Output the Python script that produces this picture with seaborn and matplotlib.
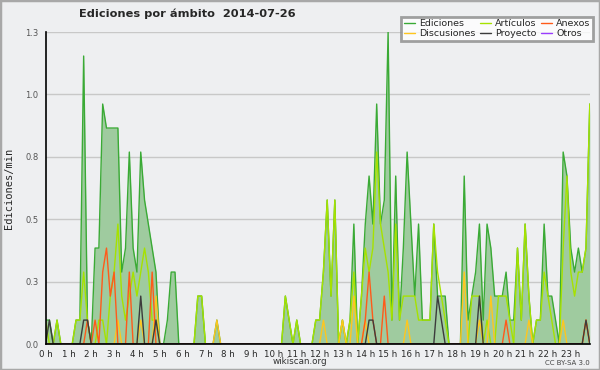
import numpy as np
import pandas as pd
import matplotlib
matplotlib.use("Agg")
import matplotlib.pyplot as plt
import seaborn as sns
from matplotlib.patches import Rectangle

# edits counted per 10-minute slot (00:00 ... 23:50)
ediciones = [1, 1, 0, 1, 0, 0, 0, 0, 1, 1,
             12, 1, 0, 4, 4, 10, 9, 9, 9, 9,
             3, 4, 8, 4, 3, 8, 6, 5, 4, 3,
             0, 0, 1, 3, 3, 0, 0, 0, 0, 0,
             2, 2, 0, 0, 0, 1, 0, 0, 0, 0,
             0, 0, 0, 0, 0, 0, 0, 0, 0, 0,
             0, 0, 0, 2, 1, 0, 1, 0, 0, 0,
             0, 1, 1, 3, 6, 2, 6, 0, 1, 0,
             1, 5, 0, 2, 5, 7, 5, 10, 5, 6,
             13, 1, 7, 1, 4, 8, 5, 2, 5, 1,
             1, 1, 5, 2, 2, 2, 0, 0, 0, 0,
             7, 1, 2, 3, 5, 1, 5, 4, 2, 2,
             2, 3, 1, 1, 4, 1, 5, 2, 0, 1,
             1, 5, 2, 2, 1, 0, 8, 7, 4, 3,
             4, 3, 4, 10]
articulos = [1, 0, 0, 1, 0, 0, 0, 0, 1, 1,
             3, 1, 0, 0, 1, 1, 0, 2, 3, 5,
             2, 1, 2, 3, 2, 3, 4, 3, 1, 1,
             0, 0, 0, 0, 0, 0, 0, 0, 0, 0,
             2, 2, 0, 0, 0, 0, 0, 0, 0, 0,
             0, 0, 0, 0, 0, 0, 0, 0, 0, 0,
             0, 0, 0, 2, 1, 0, 1, 0, 0, 0,
             0, 1, 1, 3, 6, 2, 6, 0, 1, 0,
             1, 3, 0, 2, 4, 3, 4, 8, 5, 4,
             3, 1, 5, 1, 2, 2, 2, 2, 1, 1,
             1, 1, 5, 3, 2, 1, 0, 0, 0, 0,
             0, 0, 2, 2, 2, 0, 1, 0, 0, 2,
             2, 2, 1, 0, 4, 1, 5, 2, 0, 1,
             1, 3, 2, 1, 0, 0, 4, 7, 3, 2,
             3, 3, 4, 10]
discusiones = [0, 0, 0, 0, 0, 0, 0, 0, 0, 0,
               0, 0, 0, 0, 0, 0, 0, 0, 0, 1,
               0, 0, 0, 0, 0, 1, 0, 0, 0, 2,
               0, 0, 0, 0, 0, 0, 0, 0, 0, 0,
               0, 0, 0, 0, 0, 1, 0, 0, 0, 0,
               0, 0, 0, 0, 0, 0, 0, 0, 0, 0,
               0, 0, 0, 0, 0, 0, 0, 0, 0, 0,
               0, 0, 0, 1, 0, 0, 0, 0, 1, 0,
               0, 2, 0, 0, 1, 0, 0, 0, 0, 0,
               0, 0, 0, 0, 0, 1, 0, 0, 0, 0,
               0, 0, 0, 0, 0, 0, 0, 0, 0, 0,
               3, 0, 0, 0, 1, 0, 0, 2, 0, 0,
               0, 0, 0, 0, 0, 0, 0, 1, 0, 0,
               0, 0, 0, 0, 0, 0, 1, 0, 0, 0,
               0, 0, 1, 0]
anexos = [0, 0, 0, 0, 0, 0, 0, 0, 0, 0,
          0, 1, 0, 1, 0, 3, 4, 2, 3, 0,
          0, 0, 3, 0, 0, 0, 0, 0, 3, 0,
          0, 0, 0, 0, 0, 0, 0, 0, 0, 0,
          0, 0, 0, 0, 0, 0, 0, 0, 0, 0,
          0, 0, 0, 0, 0, 0, 0, 0, 0, 0,
          0, 0, 0, 0, 0, 0, 0, 0, 0, 0,
          0, 0, 0, 0, 0, 0, 0, 0, 0, 0,
          0, 0, 0, 0, 1, 3, 1, 0, 0, 2,
          0, 0, 0, 0, 0, 0, 0, 0, 0, 0,
          0, 0, 0, 0, 0, 0, 0, 0, 0, 0,
          0, 0, 0, 0, 0, 0, 0, 0, 0, 0,
          0, 1, 0, 0, 0, 0, 0, 0, 0, 0,
          0, 0, 0, 0, 0, 0, 0, 0, 0, 0,
          0, 0, 1, 0]
proyecto = [0, 1, 0, 0, 0, 0, 0, 0, 0, 0,
            1, 1, 0, 0, 0, 0, 0, 0, 0, 0,
            0, 0, 0, 0, 0, 2, 0, 0, 0, 1,
            0, 0, 0, 0, 0, 0, 0, 0, 0, 0,
            0, 0, 0, 0, 0, 0, 0, 0, 0, 0,
            0, 0, 0, 0, 0, 0, 0, 0, 0, 0,
            0, 0, 0, 0, 0, 0, 0, 0, 0, 0,
            0, 0, 0, 0, 0, 0, 0, 0, 0, 0,
            0, 0, 0, 0, 0, 1, 1, 0, 0, 0,
            0, 0, 0, 0, 0, 0, 0, 0, 0, 0,
            0, 0, 0, 2, 1, 0, 0, 0, 0, 0,
            0, 0, 0, 0, 2, 0, 0, 0, 0, 0,
            0, 0, 0, 0, 0, 0, 0, 0, 0, 0,
            0, 0, 0, 0, 0, 0, 0, 0, 0, 0,
            0, 0, 1, 0]
otros = [0] * 144

hour_labels = [f"{h} h" for h in range(24)]
y_ticks = [0, 0.26, 0.52, 0.78, 1.04, 1.3]
y_labels = ["0.0", "0.3", "0.5", "0.8", "1.0", "1.3"]

# per-minute rate from the 10-minute counts
df = pd.DataFrame({
    "hora": np.arange(len(ediciones)) / 6,
    "Ediciones": np.array(ediciones) / 10,
    "Artículos": np.array(articulos) / 10,
    "Discusiones": np.array(discusiones) / 10,
    "Anexos": np.array(anexos) / 10,
    "Proyecto": np.array(proyecto) / 10,
    "Otros": np.array(otros) / 10,
})

colors = {
    "Ediciones": "#3aaa35",
    "Artículos": "#a6e200",
    "Discusiones": "#ffc61e",
    "Anexos": "#ff5a1a",
    "Proyecto": "#3c3c3c",
    "Otros": "#9a3cff",
}

sns.set_style("white")
plt.rcParams["font.family"] = ["DejaVu Sans"]

bg = "#eeeff1"
fig = plt.figure(figsize=(6, 3.7), dpi=100, facecolor=bg)
ax = fig.add_axes([0.076, 0.070, 0.907, 0.8435], facecolor=bg)

ax.fill_between(df["hora"], df["Ediciones"], color="#9fcb9f", lw=0, zorder=1)
for name in ["Ediciones", "Artículos", "Discusiones", "Anexos", "Proyecto", "Otros"]:
    sns.lineplot(data=df, x="hora", y=name, color=colors[name], lw=1.0,
                 ax=ax, label=name, zorder=3, legend=False)

ax.set_xlim(0, df["hora"].iloc[-1])
ax.set_ylim(0, 1.3)
ax.set_xticks(range(24))
ax.set_xticklabels(hour_labels)
ax.set_xticks(np.arange(0, 24, 1 / 6), minor=True)
ax.set_yticks(y_ticks)
ax.set_yticklabels(y_labels)
ax.set_yticks(np.arange(0, 1.3, 0.065), minor=True)
ax.tick_params(axis="x", which="both", direction="out", length=3.5, width=1,
               color="black", labelsize=6.2, pad=0.5)
ax.tick_params(axis="y", which="major", direction="out", length=4, width=1,
               color="black", labelsize=6, labelcolor="#555555", pad=1)
ax.tick_params(axis="y", which="minor", direction="out", length=2, width=1, color="black")
ax.grid(axis="y", color="#c8c8c8", lw=1)
ax.set_axisbelow(True)
ax.set_xlabel("")
ax.set_ylabel("")
for s in ["top", "right"]:
    ax.spines[s].set_visible(False)
for s in ["left", "bottom"]:
    ax.spines[s].set_color("black")
    ax.spines[s].set_linewidth(1.2)
    ax.spines[s].set_zorder(5)

fig.text(0.3125, 0.962, "Ediciones por ámbito  2014-07-26", weight="bold",
         size=8.2, ha="center", va="center")
fig.text(0.015, 0.492, "Ediciones/min", rotation=90, family="DejaVu Sans Mono",
         size=7.5, ha="center", va="center")
fig.text(0.5, 0.022, "wikiscan.org", size=6.3, ha="center", va="center", color="#333333")
fig.text(0.983, 0.02, "CC BY-SA 3.0", size=5, ha="right", va="center", color="#444444")

handles, labels = ax.get_legend_handles_labels()
order = ["Ediciones", "Discusiones", "Artículos", "Proyecto", "Anexos", "Otros"]
hmap = dict(zip(labels, handles))
leg = fig.legend([hmap[k] for k in order], order, ncol=3, loc="upper right",
                 bbox_to_anchor=(0.997, 0.968), fontsize=6.8, frameon=True,
                 fancybox=False, handlelength=1.2, handletextpad=0.4,
                 columnspacing=0.5, labelspacing=0.05, borderpad=0.3)
leg.get_frame().set_edgecolor("#8a8a8a")
leg.get_frame().set_linewidth(2)
leg.get_frame().set_facecolor("white")

fig.patches.append(Rectangle((0, 0), 1, 1, transform=fig.transFigure, fill=False,
                             edgecolor="#a8a8a8", lw=2.5))

fig.savefig("out.png", dpi=100, facecolor=bg)
